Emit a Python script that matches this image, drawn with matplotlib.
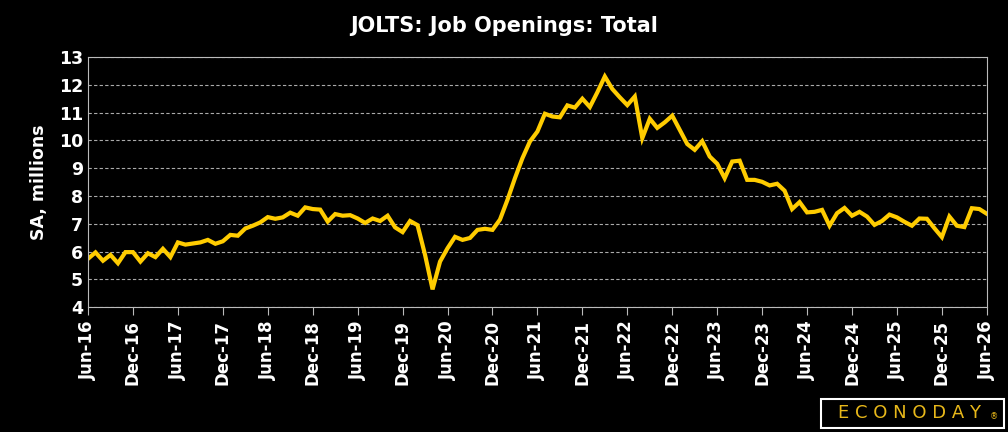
import matplotlib.pyplot as plt
import numpy as np

# JOLTS job openings, SA, millions, monthly Jun-2016 .. Jun-2026
openings = [
    5.74, 5.97, 5.67, 5.88, 5.58, 5.98, 5.98, 5.64, 5.94, 5.80, 6.10, 5.80,
    6.33, 6.25, 6.29, 6.33, 6.42, 6.28, 6.37, 6.60, 6.57, 6.83, 6.93, 7.05,
    7.24, 7.18, 7.23, 7.40, 7.29, 7.59, 7.53, 7.51, 7.08, 7.35, 7.29, 7.31,
    7.19, 7.03, 7.19, 7.10, 7.29, 6.87, 6.70, 7.10, 6.95, 5.88, 4.64, 5.64,
    6.12, 6.53, 6.42, 6.49, 6.78, 6.82, 6.78, 7.15, 7.86, 8.64, 9.36, 9.96,
    10.32, 10.96, 10.86, 10.83, 11.26, 11.18, 11.50, 11.20, 11.73, 12.30, 11.85, 11.55,
    11.27, 11.58, 10.08, 10.78, 10.45, 10.65, 10.89, 10.38, 9.87, 9.66, 9.97, 9.42,
    9.16, 8.64, 9.24, 9.27, 8.58, 8.58, 8.51, 8.38, 8.44, 8.19, 7.53, 7.78,
    7.41, 7.43, 7.50, 6.93, 7.38, 7.57, 7.29, 7.43, 7.26, 6.96, 7.10, 7.33,
    7.23, 7.07, 6.93, 7.19, 7.18, 6.84, 6.52, 7.26, 6.93, 6.88, 7.56, 7.53,
    7.36,
]
tick_labels = ["Jun-16", "Dec-16", "Jun-17", "Dec-17", "Jun-18", "Dec-18", "Jun-19",
               "Dec-19", "Jun-20", "Dec-20", "Jun-21", "Dec-21", "Jun-22", "Dec-22",
               "Jun-23", "Dec-23", "Jun-24", "Dec-24", "Jun-25", "Dec-25", "Jun-26"]

plt.rcParams["font.family"] = ["DejaVu Sans"]

fig = plt.figure(figsize=(10.08, 4.32), dpi=100, facecolor="black")
ax = fig.add_axes([0.0873, 0.289, 0.8917, 0.579], facecolor="black")

x = np.arange(len(openings))
ax.plot(x, openings, color="#FFCC00", lw=3, solid_joinstyle="miter")

ax.set_xlim(0, len(openings) - 1)
ax.set_ylim(4, 13)
ax.set_yticks(range(4, 14))
ax.set_xticks(np.arange(0, len(openings), 6))
ax.set_xticklabels(tick_labels, rotation=90)
ax.yaxis.grid(True, color="#AAAAAA", ls=(0, (3, 2)), lw=0.8)
for s in ax.spines.values():
    s.set_color("#BBBBBB")
ax.tick_params(axis="x", colors="#BBBBBB", length=6, labelcolor="white", labelsize=12)
ax.tick_params(axis="y", length=0, labelcolor="white", labelsize=12.5)
for lab in ax.get_xticklabels() + ax.get_yticklabels():
    lab.set_fontweight("bold")
ax.set_ylabel("SA, millions", color="white", fontsize=12.5, fontweight="bold", labelpad=8)

fig.text(0.5, 0.94, "JOLTS: Job Openings: Total", color="white", fontsize=15,
         fontweight="bold", ha="center", va="center")
fig.patches.append(plt.Rectangle((0.814, 0.01), 0.182, 0.066, transform=fig.transFigure,
                                 fc="black", ec="white", lw=1.5))
fig.text(0.902, 0.043, "E C O N O D A Y", color="#E8B81A", fontsize=13, ha="center",
         va="center")
fig.text(0.986, 0.035, "®", color="#E8B81A", fontsize=6, ha="center", va="center")

fig.savefig("out.png", dpi=100, facecolor="black")
